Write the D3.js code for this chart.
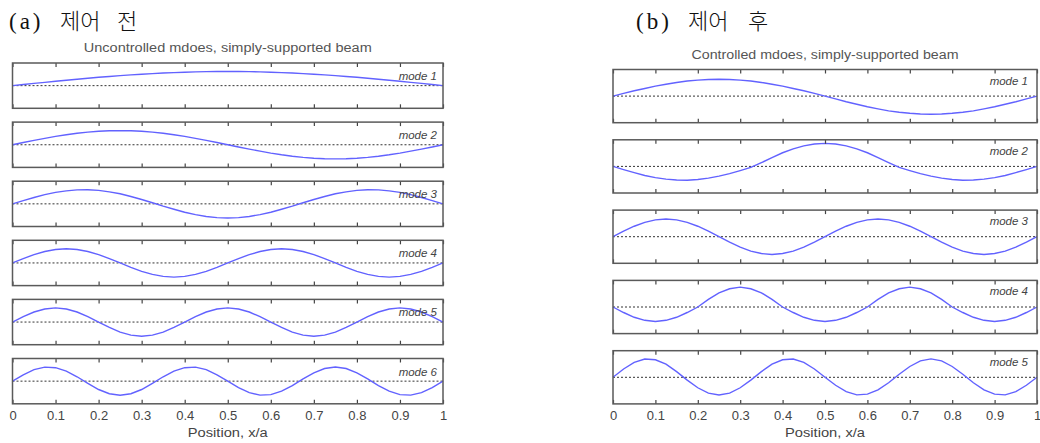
<!DOCTYPE html>
<html>
<head>
<meta charset="utf-8">
<script src="https://cdn.jsdelivr.net/npm/d3@7"></script>
<style>
  body { margin: 0; background: #fff; }
  svg { display: block; }
</style>
</head>
<body>
<svg id="chart" width="1040" height="443"></svg>
<script>
// sample positions along the beam, x/a
var positions = [0,.025,.05,.075,.1,.125,.15,.175,.2,.225,.25,.275,.3,.325,.35,.375,.4,.425,.45,.475,
                 .5,.525,.55,.575,.6,.625,.65,.675,.7,.725,.75,.775,.8,.825,.85,.875,.9,.925,.95,.975,1];

// (a) uncontrolled mode shapes
var uncontrolledMode1 = [0,.08,.16,.23,.31,.38,.45,.52,.59,.65,.71,.76,.81,.85,.89,.92,.95,.97,.99,1,1,1,.99,.97,.95,.92,.89,.85,.81,.76,.71,.65,.59,.52,.45,.38,.31,.23,.16,.08,0];
var uncontrolledMode2 = [0,.16,.31,.45,.59,.71,.81,.89,.95,.99,1,.99,.95,.89,.81,.71,.59,.45,.31,.16,0,-.16,-.31,-.45,-.59,-.71,-.81,-.89,-.95,-.99,-1,-.99,-.95,-.89,-.81,-.71,-.59,-.45,-.31,-.16,0];
var uncontrolledMode3 = [0,.23,.45,.65,.81,.92,.99,1,.95,.85,.71,.52,.31,.08,-.16,-.38,-.59,-.76,-.89,-.97,-1,-.97,-.89,-.76,-.59,-.38,-.16,.08,.31,.52,.71,.85,.95,1,.99,.92,.81,.65,.45,.23,0];
var uncontrolledMode4 = [0,.31,.59,.81,.95,1,.95,.81,.59,.31,0,-.31,-.59,-.81,-.95,-1,-.95,-.81,-.59,-.31,0,.31,.59,.81,.95,1,.95,.81,.59,.31,0,-.31,-.59,-.81,-.95,-1,-.95,-.81,-.59,-.31,0];
var uncontrolledMode5 = [0,.38,.71,.92,1,.92,.71,.38,0,-.38,-.71,-.92,-1,-.92,-.71,-.38,0,.38,.71,.92,1,.92,.71,.38,0,-.38,-.71,-.92,-1,-.92,-.71,-.38,0,.38,.71,.92,1,.92,.71,.38,0];
var uncontrolledMode6 = [0,.45,.81,.99,.95,.71,.31,-.16,-.59,-.89,-1,-.89,-.59,-.16,.31,.71,.95,.99,.81,.45,0,-.45,-.81,-.99,-.95,-.71,-.31,.16,.59,.89,1,.89,.59,.16,-.31,-.71,-.95,-.99,-.81,-.45,0];

// (b) controlled mode shapes
var controlledMode1 = [0,.15,.3,.43,.56,.67,.77,.85,.9,.94,.95,.94,.9,.85,.77,.67,.56,.43,.3,.15,0,-.16,-.32,-.46,-.6,-.72,-.83,-.91,-.97,-1.01,-1.02,-1.01,-.97,-.91,-.83,-.72,-.6,-.46,-.32,-.16,0];
var controlledMode2 = [0,-.18,-.35,-.51,-.63,-.72,-.77,-.78,-.74,-.66,-.55,-.41,-.24,-.06,.21,.49,.77,.99,1.16,1.26,1.3,1.26,1.16,.99,.77,.49,.21,-.06,-.24,-.41,-.55,-.66,-.74,-.78,-.77,-.72,-.63,-.51,-.35,-.18,0];
var controlledMode3 = [0,.31,.59,.81,.95,1,.95,.81,.59,.31,0,-.31,-.59,-.81,-.95,-1,-.95,-.81,-.59,-.31,0,.31,.59,.81,.95,1,.95,.81,.59,.31,0,-.31,-.59,-.81,-.95,-1,-.95,-.81,-.59,-.31,0];
var controlledMode4 = [0,-.31,-.58,-.75,-.82,-.75,-.58,-.31,0,.43,.8,1.03,1.12,1.03,.8,.43,0,-.31,-.58,-.75,-.82,-.75,-.58,-.31,0,.43,.8,1.03,1.12,1.03,.8,.43,0,-.31,-.58,-.75,-.82,-.75,-.58,-.31,0];
var controlledMode5 = [0,.47,.84,1.03,.99,.74,.32,-.16,-.59,-.89,-1,-.89,-.59,-.16,.32,.74,.99,1.03,.84,.47,0,-.45,-.81,-.99,-.95,-.71,-.31,.17,.61,.93,1.04,.93,.61,.17,-.31,-.71,-.95,-.99,-.81,-.45,0];

var xTicks = [0,.1,.2,.3,.4,.5,.6,.7,.8,.9,1];
var xTickLabels = ["0","0.1","0.2","0.3","0.4","0.5","0.6","0.7","0.8","0.9","1"];

var svg = d3.select("#chart");

function drawGroup(opt) {
  var x = d3.scaleLinear().domain([0, 1]).range([opt.left, opt.right]);
  var g = svg.append("g");
  var last = opt.modes.length - 1;

  opt.modes.forEach(function (values, k) {
    var top = opt.top + k * opt.step;
    var bottom = top + opt.height;
    var y = d3.scaleLinear().domain([-opt.yMax, opt.yMax]).range([bottom, top]);
    var p = g.append("g");

    // dotted zero line
    p.append("line")
      .attr("x1", x(0)).attr("x2", x(1))
      .attr("y1", y(0)).attr("y2", y(0))
      .attr("stroke", "#333")
      .attr("stroke-width", 1)
      .attr("stroke-dasharray", "2,2");

    // mode shape
    var line = d3.line()
      .x(function (d, i) { return x(positions[i]); })
      .y(function (d) { return y(d); });
    p.append("path")
      .datum(values)
      .attr("d", line)
      .attr("fill", "none")
      .attr("stroke", "#6262ff")
      .attr("stroke-width", 1.4);

    // inner ticks, top and bottom
    var topAxis = p.append("g")
      .attr("transform", "translate(0," + top + ")")
      .call(d3.axisBottom(x).tickValues(xTicks).tickSize(4).tickFormat(""));
    var botAxis = p.append("g")
      .attr("transform", "translate(0," + bottom + ")")
      .call(d3.axisTop(x).tickValues(xTicks).tickSize(4).tickFormat(""));
    [topAxis, botAxis].forEach(function (a) {
      a.select(".domain").remove();
      a.selectAll("line").attr("stroke", "#444").attr("stroke-width", 1.2);
    });

    // box
    p.append("rect")
      .attr("x", x(0)).attr("y", top)
      .attr("width", x(1) - x(0)).attr("height", opt.height)
      .attr("fill", "none")
      .attr("stroke", "#5a5a5a")
      .attr("stroke-width", 1.5);

    // mode label
    p.append("text")
      .attr("x", x(1) - opt.labelInset)
      .attr("y", top + opt.labelDrop)
      .attr("text-anchor", "end")
      .style("font-family", "Liberation Sans, Arial, sans-serif")
      .style("font-style", "italic")
      .style("font-size", "11.5px")
      .style("fill", "#444")
      .text("mode " + (k + 1));

    // tick labels under the last panel
    if (k === last) {
      var lab = p.append("g")
        .attr("transform", "translate(0," + bottom + ")")
        .call(d3.axisBottom(x).tickValues(xTicks).tickSize(0).tickPadding(7)
          .tickFormat(function (d, i) { return xTickLabels[i]; }));
      lab.select(".domain").remove();
      lab.selectAll("text")
        .style("font-family", "Liberation Sans, Arial, sans-serif")
        .style("font-size", "13px")
        .style("fill", "#444");

      svg.append("text")
        .attr("x", (x(0) + x(1)) / 2)
        .attr("y", bottom + 33)
        .attr("text-anchor", "middle")
        .attr("textLength", 80)
        .attr("lengthAdjust", "spacingAndGlyphs")
        .style("font-family", "Liberation Sans, Arial, sans-serif")
        .style("font-size", "12.5px")
        .style("fill", "#444")
        .text("Position, x/a");
    }
  });

  // plot title
  svg.append("text")
    .attr("x", (x(0) + x(1)) / 2)
    .attr("y", opt.titleY)
    .attr("text-anchor", "middle")
    .attr("textLength", opt.titleWidth)
    .attr("lengthAdjust", "spacingAndGlyphs")
    .style("font-family", "Liberation Sans, Arial, sans-serif")
    .style("font-size", "12px")
    .style("fill", "#555")
    .text(opt.title);

  // panel caption, (a) / (b)
  var cap = svg.append("text")
    .attr("y", 29)
    .style("font-family", "Liberation Serif, 'Noto Sans CJK KR', serif")
    .style("font-size", "22px")
    .style("fill", "#111");
  opt.caption.forEach(function (part, i) {
    var t = cap.append("tspan").attr("x", part[0]).text(part[1]);
    if (i === 0) {
      t.style("font-size", "23px").style("letter-spacing", "3px");
    } else {
      t.style("font-weight", 300);
    }
  });
}

drawGroup({
  left: 12.5, right: 443,
  top: 63, step: 59.1, height: 45.3, yMax: 1.6,
  labelInset: 6, labelDrop: 17,
  titleY: 52, titleWidth: 288,
  title: "Uncontrolled mdoes, simply-supported beam",
  caption: [[9, "(a)"], [60, "제어"], [117, "전"]],
  modes: [uncontrolledMode1, uncontrolledMode2, uncontrolledMode3,
          uncontrolledMode4, uncontrolledMode5, uncontrolledMode6]
});

drawGroup({
  left: 613, right: 1037,
  top: 69.5, step: 70.3, height: 53.2, yMax: 1.5,
  labelInset: 9, labelDrop: 15,
  titleY: 59, titleWidth: 267,
  title: "Controlled mdoes, simply-supported beam",
  caption: [[636, "(b)"], [688, "제어"], [748, "후"]],
  modes: [controlledMode1, controlledMode2, controlledMode3,
          controlledMode4, controlledMode5]
});
</script>
</body>
</html>
